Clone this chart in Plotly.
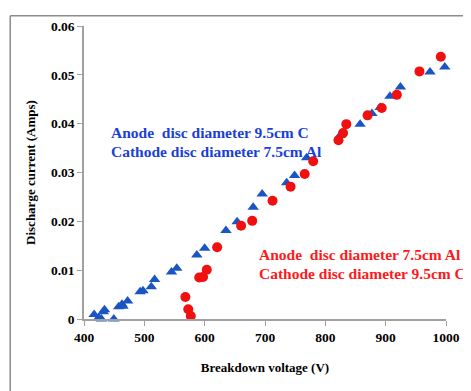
import plotly.graph_objects as go

blue_v = [416.8, 424.5, 428.8, 432.0, 434.0, 449.4, 457.5, 463.0, 464.5, 472.3,
          493.0, 497.8, 511.5, 517.0, 545.0, 553.8, 587.0, 600.0, 635.3, 653.8,
          680.4, 695.3, 735.9, 749.0, 769.0, 824.4, 857.6, 877.2, 890.8, 907.1,
          924.5, 973.5, 998.0]
blue_i = [0.0009, 0.0003, 0.0000, 0.0015, 0.0019, 0.0000, 0.0025, 0.0030, 0.0026, 0.0037,
          0.0056, 0.0058, 0.0066, 0.0081, 0.0096, 0.0104, 0.0131, 0.0145, 0.0181, 0.0199,
          0.0229, 0.0256, 0.0279, 0.0294, 0.0330, 0.0376, 0.0399, 0.0421, 0.0433, 0.0456,
          0.0475, 0.0506, 0.0516]

red_v = [568.0, 572.8, 577.0, 591.0, 597.3, 603.5, 620.7, 660.4, 678.8, 712.5,
         742.4, 765.8, 779.9, 821.8, 829.4, 834.8, 870.0, 893.5, 918.5, 956.0, 991.4]
red_i = [0.0045, 0.0020, 0.0006, 0.0085, 0.0086, 0.0101, 0.0147, 0.0191, 0.0201, 0.0242,
         0.0271, 0.0297, 0.0323, 0.0366, 0.0381, 0.0399, 0.0417, 0.0432, 0.0459, 0.0507, 0.0537]

x_ticks = [400, 500, 600, 700, 800, 900, 1000]
y_ticks = [0, 0.01, 0.02, 0.03, 0.04, 0.05, 0.06]
y_labels = ["0", "0.01", "0.02", "0.03", "0.04", "0.05", "0.06"]

FONT = "Liberation Serif"

fig = go.Figure()
fig.add_trace(go.Scatter(x=blue_v, y=blue_i, mode="markers", cliponaxis=False,
                         marker=dict(symbol="triangle-up", size=10, color="#1b55c4"),
                         showlegend=False))
fig.add_trace(go.Scatter(x=red_v, y=red_i, mode="markers", cliponaxis=False,
                         marker=dict(symbol="circle", size=10, color="#f01010"),
                         showlegend=False))

axis_common = dict(showline=True, linecolor="#a0a0a0", linewidth=1.5, ticks="outside",
                   ticklen=5, tickcolor="#a0a0a0", showgrid=False, zeroline=False,
                   tickfont=dict(family=FONT, size=13.5, color="black", weight="bold"))

fig.update_xaxes(range=[400, 1000], tickvals=x_ticks,
                 title=dict(text="Breakdown voltage (V)", standoff=19,
                            font=dict(family=FONT, size=13, color="black", weight="bold")),
                 **axis_common)
fig.update_yaxes(range=[0, 0.06], tickvals=y_ticks, ticktext=y_labels,
                 title=dict(text="Discharge current (Amps)", standoff=12,
                            font=dict(family=FONT, size=13, color="black", weight="bold")),
                 **axis_common)

ann_font_b = dict(family=FONT, size=15.5, color="#1a3fd8", weight="bold")
ann_font_r = dict(family=FONT, size=15.5, color="#ff1a1a", weight="bold")
fig.add_annotation(x=0.0707, y=0.6367, xref="paper", yref="paper", xanchor="left", yanchor="middle",
                   text="Anode  disc diameter 9.5cm C", showarrow=False, font=ann_font_b, borderpad=0)
fig.add_annotation(x=0.0707, y=0.5733, xref="paper", yref="paper", xanchor="left", yanchor="middle",
                   text="Cathode disc diameter 7.5cm Al", showarrow=False, font=ann_font_b, borderpad=0)
fig.add_annotation(x=0.4802, y=0.2190, xref="paper", yref="paper", xanchor="left", yanchor="middle",
                   text="Anode  disc diameter 7.5cm Al", showarrow=False, font=ann_font_r, borderpad=0)
fig.add_annotation(x=0.4802, y=0.1543, xref="paper", yref="paper", xanchor="left", yanchor="middle",
                   text="Cathode disc diameter 9.5cm C", showarrow=False, font=ann_font_r, borderpad=0)

# outer frame (left and top edges visible); plot area spans 368 x 300 px starting at (76, 11)
fig.add_shape(type="line", xref="paper", yref="paper", x0=-0.2038, x1=-0.2038, y0=-0.26, y1=1.035,
              line=dict(color="#8c8c8c", width=1.5))
fig.add_shape(type="line", xref="paper", yref="paper", x0=-0.2038, x1=1.06, y0=1.035, y1=1.035,
              line=dict(color="#8c8c8c", width=1.5))

fig.update_layout(width=463, height=383, margin=dict(l=76, r=19, t=11, b=72),
                  plot_bgcolor="white", paper_bgcolor="white")

fig.write_html("out.html")
